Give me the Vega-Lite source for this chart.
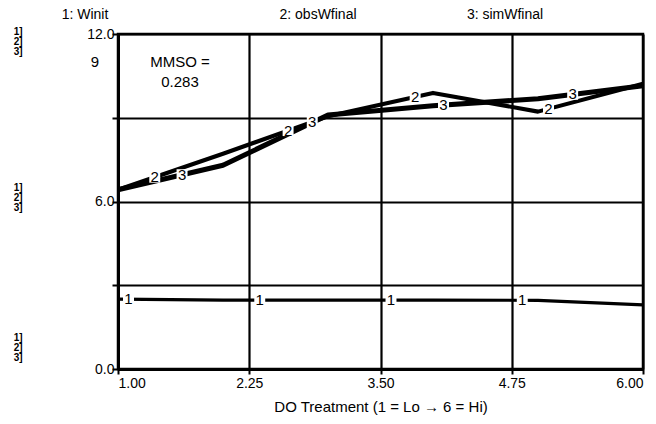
{
  "$schema": "https://vega.github.io/schema/vega-lite/v6.json",
  "autosize": "none",
  "width": 525,
  "height": 335,
  "padding": {"left": 118, "top": 34, "right": 13, "bottom": 55},
  "background": "white",
  "config": {
    "view": {"stroke": "black", "strokeWidth": 2.5},
    "font": "Liberation Sans",
    "text": {"font": "Liberation Sans", "color": "black"}
  },
  "datasets": {
    "lines": [
      {"series": "1", "x": 1, "y": 2.5},
      {"series": "1", "x": 2, "y": 2.47},
      {"series": "1", "x": 3, "y": 2.47},
      {"series": "1", "x": 4, "y": 2.47},
      {"series": "1", "x": 5, "y": 2.46},
      {"series": "1", "x": 6, "y": 2.3},
      {"series": "2", "x": 1, "y": 6.42},
      {"series": "2", "x": 2, "y": 7.71},
      {"series": "2", "x": 3, "y": 9.05},
      {"series": "2", "x": 4, "y": 9.89},
      {"series": "2", "x": 5, "y": 9.22},
      {"series": "2", "x": 6, "y": 10.22},
      {"series": "3", "x": 1, "y": 6.42},
      {"series": "3", "x": 2, "y": 7.3},
      {"series": "3", "x": 3, "y": 9.1},
      {"series": "3", "x": 4, "y": 9.43},
      {"series": "3", "x": 5, "y": 9.68},
      {"series": "3", "x": 6, "y": 10.15}
    ],
    "labels": [
      {"label": "1", "x": 1.1, "y": 2.49},
      {"label": "1", "x": 2.35, "y": 2.47},
      {"label": "1", "x": 3.6, "y": 2.47},
      {"label": "1", "x": 4.85, "y": 2.46},
      {"label": "2", "x": 1.35, "y": 6.87},
      {"label": "2", "x": 2.62, "y": 8.54},
      {"label": "2", "x": 3.83, "y": 9.75},
      {"label": "2", "x": 5.1, "y": 9.32},
      {"label": "3", "x": 1.61, "y": 6.96},
      {"label": "3", "x": 2.85, "y": 8.83},
      {"label": "3", "x": 4.1, "y": 9.46},
      {"label": "3", "x": 5.33, "y": 9.84}
    ],
    "titles": [
      {"text": "1: Winit", "x": 0.686, "y": 12.69},
      {"text": "2: obsWfinal", "x": 2.905, "y": 12.69},
      {"text": "3: simWfinal", "x": 4.686, "y": 12.69}
    ],
    "brackets": [
      {"text": "1]", "x": 0.05, "y": 12.08},
      {"text": "2]", "x": 0.05, "y": 11.72},
      {"text": "3]", "x": 0.05, "y": 11.36},
      {"text": "1]", "x": 0.05, "y": 6.49},
      {"text": "2]", "x": 0.05, "y": 6.13},
      {"text": "3]", "x": 0.05, "y": 5.77},
      {"text": "1]", "x": 0.05, "y": 1.11},
      {"text": "2]", "x": 0.05, "y": 0.75},
      {"text": "3]", "x": 0.05, "y": 0.39}
    ],
    "notes": [
      {"text": "9", "x": 0.78, "y": 11.0},
      {"text": "MMSO =", "x": 1.59, "y": 11.0},
      {"text": "0.283", "x": 1.59, "y": 10.29}
    ]
  },
  "layer": [
    {
      "data": {"name": "lines"},
      "mark": {"type": "line", "color": "black", "strokeJoin": "round"},
      "encoding": {
        "x": {
          "field": "x", "type": "quantitative",
          "scale": {"domain": [1, 6], "nice": false, "zero": false},
          "axis": {
            "values": [1, 2.25, 3.5, 4.75, 6],
            "format": ".2f",
            "labelFlush": true,
            "grid": true, "gridColor": "black", "gridWidth": 2.2, "gridOpacity": 1,
            "domainColor": "black", "domainWidth": 3,
            "tickColor": "black", "tickWidth": 2, "tickSize": 5,
            "labelFont": "Liberation Sans", "labelFontSize": 14, "labelColor": "black", "labelPadding": 2,
            "title": "DO Treatment (1 = Lo → 6 = Hi)",
            "titleFont": "Liberation Sans", "titleFontSize": 15, "titleFontWeight": "normal", "titleColor": "black", "titlePadding": 9
          }
        },
        "y": {
          "field": "y", "type": "quantitative",
          "scale": {"domain": [0, 12], "nice": false},
          "axis": {
            "values": [0, 3, 6, 9, 12],
            "labelExpr": "datum.value % 6 == 0 ? format(datum.value, '.1f') : ''",
            "grid": true, "gridColor": "black", "gridWidth": 2.2, "gridOpacity": 1,
            "domainColor": "black", "domainWidth": 3,
            "tickColor": "black", "tickWidth": 2, "tickSize": 6,
            "labelFont": "Liberation Sans", "labelFontSize": 14, "labelColor": "black", "labelPadding": -2,
            "title": null
          }
        },
        "detail": {"field": "series", "type": "nominal"},
        "strokeWidth": {
          "field": "series", "type": "nominal",
          "scale": {"domain": ["1", "2", "3"], "range": [3.2, 5, 5]},
          "legend": null
        }
      }
    },
    {
      "data": {"name": "labels"},
      "mark": {"type": "point", "shape": "square", "filled": true, "color": "white", "opacity": 1, "size": 120},
      "encoding": {
        "x": {"field": "x", "type": "quantitative"},
        "y": {"field": "y", "type": "quantitative"}
      }
    },
    {
      "data": {"name": "labels"},
      "mark": {"type": "text", "fontSize": 15, "align": "center", "baseline": "middle", "color": "black"},
      "encoding": {
        "x": {"field": "x", "type": "quantitative"},
        "y": {"field": "y", "type": "quantitative"},
        "text": {"field": "label"}
      }
    },
    {
      "data": {"name": "titles"},
      "mark": {"type": "text", "fontSize": 14, "align": "center", "baseline": "middle", "color": "black"},
      "encoding": {
        "x": {"field": "x", "type": "quantitative"},
        "y": {"field": "y", "type": "quantitative"},
        "text": {"field": "text"}
      }
    },
    {
      "data": {"name": "brackets"},
      "mark": {"type": "text", "fontSize": 10, "fontWeight": "bold", "align": "center", "baseline": "middle", "color": "black"},
      "encoding": {
        "x": {"field": "x", "type": "quantitative"},
        "y": {"field": "y", "type": "quantitative"},
        "text": {"field": "text"}
      }
    },
    {
      "data": {"name": "notes"},
      "mark": {"type": "text", "fontSize": 15, "align": "center", "baseline": "middle", "color": "black"},
      "encoding": {
        "x": {"field": "x", "type": "quantitative"},
        "y": {"field": "y", "type": "quantitative"},
        "text": {"field": "text"}
      }
    }
  ]
}
